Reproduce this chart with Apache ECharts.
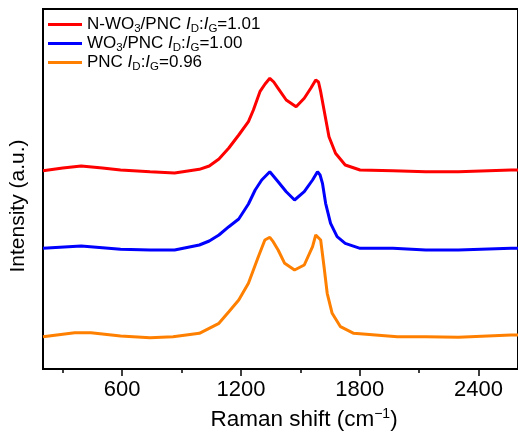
<!DOCTYPE html>
<html>
<head>
<meta charset="utf-8">
<script src="https://cdn.jsdelivr.net/npm/echarts@6/dist/echarts.min.js"></script>
<style>html,body{margin:0;padding:0;background:#fff;}#c{width:518px;height:441px;}</style>
</head>
<body>
<div id="c"></div>
<script>
// Raman shift (cm^-1) sample positions and intensities (a.u.)
const redShift = [200, 300, 393, 500, 592, 741, 865, 990, 1040, 1089, 1139, 1189, 1238, 1263, 1296, 1322, 1346, 1366, 1388, 1429, 1479, 1520, 1553, 1578, 1592, 1603, 1620, 1645, 1678, 1727, 1802, 1968, 2134, 2299, 2565, 2600];
const redInt   = [198.3, 201, 203, 201, 199, 197.3, 196, 199.7, 203, 210, 221, 234, 247.3, 259, 277.3, 285, 290.7, 287, 280.7, 269, 262.3, 270.7, 280.7, 289, 287, 277.3, 259, 232.3, 215.7, 204, 199, 198.3, 197.3, 197.3, 199, 199];

const blueShift = [200, 393, 592, 741, 865, 990, 1040, 1089, 1139, 1189, 1238, 1272, 1305, 1346, 1388, 1429, 1471, 1520, 1562, 1587, 1600, 1612, 1628, 1653, 1686, 1727, 1802, 1968, 2134, 2299, 2565, 2600];
const blueInt   = [120.7, 123, 119.7, 119, 119, 124, 128, 134, 142.3, 150, 165, 179, 189, 197.3, 187.3, 177.3, 169, 177.3, 189, 197.3, 194, 185.7, 165.7, 145.7, 132.3, 125.7, 120.7, 120.7, 119, 119, 120.7, 120.7];

const orangeShift = [200, 360, 442, 592, 741, 857, 990, 1089, 1139, 1189, 1238, 1263, 1288, 1321, 1346, 1363, 1388, 1421, 1471, 1520, 1562, 1578, 1603, 1620, 1636, 1661, 1703, 1770, 1990, 2134, 2299, 2565, 2600];
const orangeInt   = [32.3, 36.3, 36.3, 33, 31.3, 32.3, 35.7, 45.7, 57.3, 69, 85.7, 99, 112.3, 129, 131.7, 127.3, 119, 105.7, 99, 104, 122.3, 134, 129, 102.3, 75.7, 55.7, 42.3, 35.7, 32.3, 32.3, 31.7, 34, 34];

const seriesNames = ['N-WO3/PNC', 'WO3/PNC', 'PNC'];
const ratioLabels = ['1.01', '1.00', '0.96'];
const majorTicks = [600, 1200, 1800, 2400];
const minorTicks = [300, 900, 1500, 2100];

function pairs(xs, ys) { return xs.map((x, i) => [x, ys[i]]); }

const legendRich = {
  'N-WO3/PNC': '{n|N-WO}{s|3}{n|/PNC }{i|I}{s|D}{n|:}{i|I}{s|G}{n|=' + ratioLabels[0] + '}',
  'WO3/PNC': '{n|WO}{s|3}{n|/PNC }{i|I}{s|D}{n|:}{i|I}{s|G}{n|=' + ratioLabels[1] + '}',
  'PNC': '{n|PNC }{i|I}{s|D}{n|:}{i|I}{s|G}{n|=' + ratioLabels[2] + '}'
};

const FONT = '"Liberation Sans", Arial, sans-serif';
const chart = echarts.init(document.getElementById('c'));
chart.setOption({
  animation: false,
  backgroundColor: '#fff',
  grid: { left: 42, right: -4, top: 9, bottom: 72, show: true, borderColor: '#000', borderWidth: 2, containLabel: false },
  legend: {
    orient: 'vertical', left: 43, top: 11, itemWidth: 34, itemHeight: 3, itemGap: 0, icon: 'rect',
    data: seriesNames,
    formatter: name => legendRich[name],
    textStyle: {
      fontFamily: FONT, color: '#000',
      rich: {
        n: { fontSize: 17, lineHeight: 21, fontFamily: FONT, color: '#000' },
        i: { fontSize: 17, lineHeight: 21, fontStyle: 'italic', fontFamily: FONT, color: '#000' },
        s: { fontSize: 11.5, lineHeight: 11, verticalAlign: 'bottom', fontFamily: FONT, color: '#000' }
      }
    }
  },
  xAxis: [
    {
      type: 'value', min: 200, max: 2600, position: 'bottom',
      name: '{n|Raman shift (cm}{p|\u22121}{n|)}', nameLocation: 'middle', nameGap: 38,
      nameTextStyle: {
        padding: [0, 0, 0, 47], fontFamily: FONT, color: '#000',
        rich: {
          n: { fontSize: 22.5, lineHeight: 25, fontFamily: FONT, color: '#000' },
          p: { fontSize: 14, lineHeight: 13, verticalAlign: 'top', fontFamily: FONT, color: '#000' }
        }
      },
      axisLine: { show: true, lineStyle: { color: '#000', width: 2 } },
      axisTick: { show: true, inside: false, length: 7, customValues: majorTicks, lineStyle: { color: '#000', width: 1.5 } },
      axisLabel: { show: true, customValues: majorTicks, margin: 10, fontSize: 22, fontFamily: FONT, color: '#000', formatter: v => String(v) },
      splitLine: { show: false }
    },
    {
      type: 'value', min: 200, max: 2600, position: 'bottom',
      axisLine: { show: false },
      axisTick: { show: true, inside: false, length: 4, customValues: minorTicks, lineStyle: { color: '#000', width: 1.5 } },
      axisLabel: { show: false },
      splitLine: { show: false }
    }
  ],
  yAxis: {
    type: 'value', min: 0, max: 360,
    name: 'Intensity (a.u.)', nameLocation: 'middle', nameGap: 14,
    nameTextStyle: { fontSize: 21, fontFamily: FONT, color: '#000', padding: [0, 34, 0, 0] },
    axisLine: { show: false }, axisTick: { show: false }, axisLabel: { show: false }, splitLine: { show: false }
  },
  series: [
    { name: seriesNames[0], type: 'line', showSymbol: false, color: '#ff0000', lineStyle: { width: 3, color: '#ff0000' }, data: pairs(redShift, redInt) },
    { name: seriesNames[1], type: 'line', showSymbol: false, color: '#0000ff', lineStyle: { width: 3, color: '#0000ff' }, data: pairs(blueShift, blueInt) },
    { name: seriesNames[2], type: 'line', showSymbol: false, color: '#ff8000', lineStyle: { width: 3, color: '#ff8000' }, data: pairs(orangeShift, orangeInt) }
  ]
});
</script>
</body>
</html>
